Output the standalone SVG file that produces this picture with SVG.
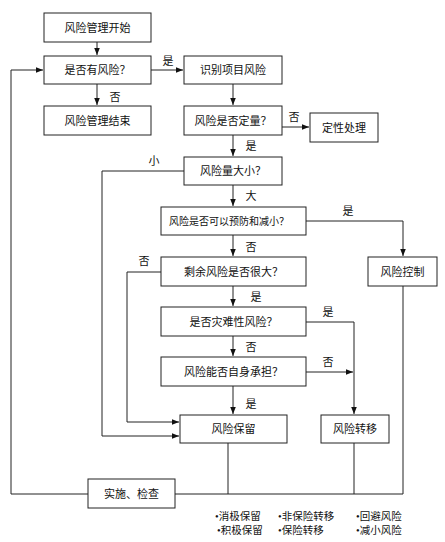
<svg xmlns="http://www.w3.org/2000/svg" width="445" height="542" viewBox="0 0 445 542">
<style>
.box{fill:#fff;stroke:#222;stroke-width:1}
.t{font-family:"Liberation Serif","Noto Sans CJK SC",serif;font-size:11px;fill:#111;text-anchor:middle;dominant-baseline:central}
.lbl{font-family:"Liberation Serif","Noto Sans CJK SC",serif;font-size:11px;fill:#111;text-anchor:middle;dominant-baseline:central}
.b{font-family:"Liberation Serif","Noto Sans CJK SC",serif;font-size:10.5px;fill:#111;dominant-baseline:central}
.c{fill:none;stroke:#222;stroke-width:1}
.a{marker-end:url(#ar)}
</style>
<defs>
<marker id="ar" viewBox="0 0 10 10" refX="10" refY="5" markerWidth="7" markerHeight="7" orient="auto" markerUnits="userSpaceOnUse">
<path d="M0,1 L10,5 L0,9 z" fill="#111"/>
</marker>
</defs>
<rect width="445" height="542" fill="#fff"/>
<g id="connectors">
<path class="c a" d="M97,42 V55"/>
<path class="c a" d="M151,70 H183"/>
<path class="c a" d="M97,84 V105"/>
<path class="c a" d="M233,84 V105"/>
<path class="c a" d="M282,127 H309"/>
<path class="c a" d="M233,135 V156"/>
<path class="c a" d="M233,185 V206"/>
<path class="c a" d="M306,221 H403 V256"/>
<path class="c a" d="M233,235 V256"/>
<path class="c a" d="M233,286 V306"/>
<path class="c a" d="M233,336 V356"/>
<path class="c a" d="M306,322 H354 V414"/>
<path class="c a" d="M306,372 H353"/>
<path class="c a" d="M233,386 V414"/>
<path class="c a" d="M161,272 H127 V422 H179"/>
<path class="c a" d="M184,171 H102 V436 H179"/>
<path class="c" d="M403,286 V494 H175"/>
<path class="c" d="M228,443 V494"/>
<path class="c" d="M354,443 V494"/>
<path class="c a" d="M88,494 H11 V70 H43"/>
</g>
<g id="labels">
<text class="lbl" x="168" y="61">是</text>
<text class="lbl" x="115" y="97">否</text>
<text class="lbl" x="294" y="117">否</text>
<text class="lbl" x="251" y="146">是</text>
<text class="lbl" x="154" y="161">小</text>
<text class="lbl" x="251" y="196">大</text>
<text class="lbl" x="348" y="211">是</text>
<text class="lbl" x="251" y="247">否</text>
<text class="lbl" x="144" y="261">否</text>
<text class="lbl" x="256" y="297">是</text>
<text class="lbl" x="328" y="312">是</text>
<text class="lbl" x="251" y="347">否</text>
<text class="lbl" x="328" y="362">否</text>
<text class="lbl" x="251" y="404">是</text>
</g>
<g id="n-start"><rect class="box" x="44" y="13" width="107" height="29"/><text class="t" x="97.5" y="27.5">风险管理开始</text></g>
<g id="n-has-risk"><rect class="box" x="44" y="56" width="107" height="28"/><text class="t" x="97.5" y="70">是否有风险？</text></g>
<g id="n-end"><rect class="box" x="44" y="106" width="107" height="29"/><text class="t" x="97.5" y="120.5">风险管理结束</text></g>
<g id="n-identify"><rect class="box" x="184" y="56" width="98" height="28"/><text class="t" x="233" y="70">识别项目风险</text></g>
<g id="n-quant"><rect class="box" x="184" y="106" width="98" height="29"/><text class="t" x="233" y="120.5">风险是否定量？</text></g>
<g id="n-qual"><rect class="box" x="310" y="113" width="68" height="29"/><text class="t" x="344" y="127.5">定性处理</text></g>
<g id="n-size"><rect class="box" x="184" y="157" width="98" height="28"/><text class="t" x="233" y="171">风险量大小？</text></g>
<g id="n-prevent"><rect class="box" x="161" y="207" width="145" height="28"/><text class="t" x="229" y="221" style="font-size:10px">风险是否可以预防和减小？</text></g>
<g id="n-control"><rect class="box" x="368" y="257" width="69" height="29"/><text class="t" x="402.5" y="271.5">风险控制</text></g>
<g id="n-residual"><rect class="box" x="161" y="257" width="145" height="29"/><text class="t" x="233.5" y="271.5">剩余风险是否很大？</text></g>
<g id="n-catastrophe"><rect class="box" x="161" y="307" width="145" height="29"/><text class="t" x="233.5" y="321.5">是否灾难性风险？</text></g>
<g id="n-bear"><rect class="box" x="161" y="357" width="145" height="29"/><text class="t" x="233.5" y="371.5">风险能否自身承担？</text></g>
<g id="n-retain"><rect class="box" x="180" y="415" width="107" height="28"/><text class="t" x="233.5" y="429">风险保留</text></g>
<g id="n-transfer"><rect class="box" x="321" y="415" width="68" height="28"/><text class="t" x="355" y="429">风险转移</text></g>
<g id="n-implement"><rect class="box" x="88" y="479" width="87" height="29"/><text class="t" x="131.5" y="493.5">实施、检查</text></g>
<g id="notes">
<text class="b" x="215" y="516">•消极保留</text>
<text class="b" x="217" y="530">•积极保留</text>
<text class="b" x="278" y="516">•非保险转移</text>
<text class="b" x="278" y="530">•保险转移</text>
<text class="b" x="356" y="516">•回避风险</text>
<text class="b" x="356" y="530">•减小风险</text>
</g>
</svg>
